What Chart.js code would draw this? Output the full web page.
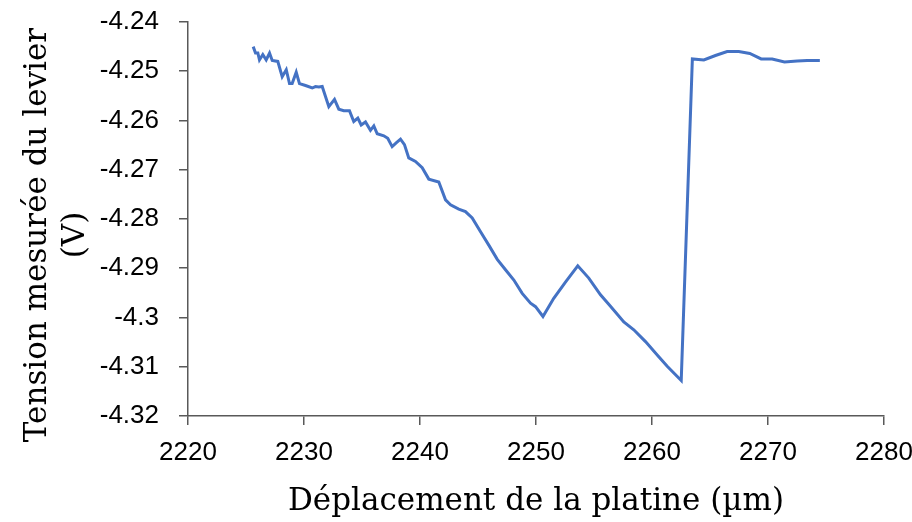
<!DOCTYPE html>
<html>
<head>
<meta charset="utf-8">
<script src="https://cdn.jsdelivr.net/npm/chart.js@4/dist/chart.umd.min.js"></script>
<style>
  html, body { margin: 0; padding: 0; background: #ffffff; }
  #wrap { width: 912px; height: 522px; }
</style>
</head>
<body>
<div id="wrap"><canvas id="c" width="912" height="522"></canvas></div>
<script>
// Stage displacement (µm)
const displacement = [
  2225.62, 2225.82, 2226.02, 2226.16, 2226.45, 2226.74, 2227.03, 2227.26, 2227.74, 2228.12,
  2228.47, 2228.75, 2228.98, 2229.33, 2229.61, 2230.13, 2230.71, 2230.99, 2231.28, 2231.57,
  2232.14, 2232.63, 2233.00, 2233.43, 2233.92, 2234.29, 2234.64, 2234.93, 2235.30, 2235.73,
  2236.02, 2236.31, 2236.88, 2237.22, 2237.60, 2237.97, 2238.32, 2238.66, 2239.03, 2239.61,
  2240.19, 2240.76, 2241.62, 2242.20, 2242.63, 2243.34, 2243.92, 2244.50, 2245.22, 2245.93,
  2246.66, 2247.37, 2248.09, 2248.81, 2249.53, 2249.96, 2250.60, 2251.53, 2252.54, 2253.60,
  2254.55, 2255.56, 2256.42, 2257.57, 2258.43, 2259.44, 2260.45, 2261.31, 2262.52, 2263.48,
  2264.47, 2265.47, 2266.48, 2267.48, 2268.43, 2269.41, 2270.36, 2271.42, 2272.52, 2273.38, 2274.47
];

// Measured cantilever voltage (V)
const voltage = [
  -4.2450, -4.2463, -4.2463, -4.2477, -4.2466, -4.2477, -4.2463, -4.2478, -4.2480, -4.2511,
  -4.2497, -4.2525, -4.2525, -4.2502, -4.2525, -4.2529, -4.2534, -4.2531, -4.2532, -4.2531,
  -4.2572, -4.2557, -4.2577, -4.2580, -4.2580, -4.2602, -4.2595, -4.2609, -4.2603, -4.2620,
  -4.2611, -4.2627, -4.2631, -4.2636, -4.2653, -4.2645, -4.2638, -4.2649, -4.2676, -4.2683,
  -4.2696, -4.2719, -4.2725, -4.2761, -4.2771, -4.2780, -4.2785, -4.2798, -4.2826, -4.2853,
  -4.2882, -4.2903, -4.2924, -4.2951, -4.2971, -4.2978, -4.2998, -4.2961, -4.2928, -4.2895,
  -4.2920, -4.2954, -4.2977, -4.3009, -4.3025, -4.3049, -4.3076, -4.3099, -4.3128, -4.2475,
  -4.2477, -4.2468, -4.2460, -4.2460, -4.2464, -4.2475, -4.2475, -4.2481, -4.2479, -4.2478, -4.2478
];

// Axis tick labels
const xTickLabels = ['2220', '2230', '2240', '2250', '2260', '2270', '2280'];
const yTickLabels = ['-4.32', '-4.31', '-4.3', '-4.29', '-4.28', '-4.27', '-4.26', '-4.25', '-4.24'];

const xTitle = 'Déplacement de la platine (µm)';
const yTitleLines = ['Tension mesurée du levier', '(V)'];

const tickFont = { family: '"Liberation Sans", Arial, sans-serif', size: 26 };
const titleFont = { family: '"DejaVu Serif", "Liberation Serif", serif', size: 31 };
const axisColor = '#595959';

// Rotated two-line y-axis title
const yTitlePlugin = {
  id: 'yTitle',
  afterDraw(chart) {
    const ctx = chart.ctx;
    const area = chart.chartArea;
    ctx.save();
    ctx.font = `${titleFont.size}px ${titleFont.family}`;
    ctx.fillStyle = '#000000';
    ctx.textAlign = 'center';
    ctx.textBaseline = 'middle';
    const cy = (area.top + area.bottom) / 2 + 16;
    const xs = [38, 76];
    yTitleLines.forEach((line, i) => {
      ctx.save();
      ctx.translate(xs[i], cy);
      ctx.rotate(-Math.PI / 2);
      ctx.fillText(line, 0, 0);
      ctx.restore();
    });
    ctx.restore();
  }
};

new Chart(document.getElementById('c'), {
  type: 'line',
  data: {
    datasets: [{
      data: displacement.map((x, i) => ({ x, y: voltage[i] })),
      borderColor: '#4472C4',
      borderWidth: 3,
      pointRadius: 0,
      tension: 0,
      fill: false
    }]
  },
  options: {
    responsive: false,
    animation: false,
    layout: { padding: { top: 22, right: 28, bottom: 0, left: 0 } },
    plugins: { legend: { display: false }, tooltip: { enabled: false } },
    scales: {
      x: {
        type: 'linear',
        min: 2220,
        max: 2280,
        afterFit(scale) {
          scale.height = 106;
          scale.paddingLeft = 0;
          scale.paddingRight = 0;
        },
        ticks: {
          stepSize: 10,
          color: '#000000',
          font: tickFont,
          padding: 12,
          maxRotation: 0,
          callback: (v, i) => xTickLabels[i]
        },
        grid: { drawOnChartArea: false, drawTicks: true, tickLength: 9, color: axisColor, lineWidth: 1.5 },
        border: { display: true, color: axisColor, width: 1.5 },
        title: {
          display: true,
          text: xTitle,
          color: '#000000',
          font: titleFont,
          padding: { top: 0, bottom: 1 }
        }
      },
      y: {
        type: 'linear',
        min: -4.32,
        max: -4.24,
        afterFit(scale) {
          scale.width = 188;
          scale.paddingTop = 0;
          scale.paddingBottom = 0;
        },
        ticks: {
          stepSize: 0.01,
          color: '#000000',
          font: tickFont,
          padding: 20,
          callback: (v, i) => yTickLabels[i]
        },
        grid: { drawOnChartArea: false, drawTicks: true, tickLength: 9, color: axisColor, lineWidth: 1.5 },
        border: { display: true, color: axisColor, width: 1.5 },
        title: { display: false }
      }
    }
  },
  plugins: [yTitlePlugin]
});
</script>
</body>
</html>
